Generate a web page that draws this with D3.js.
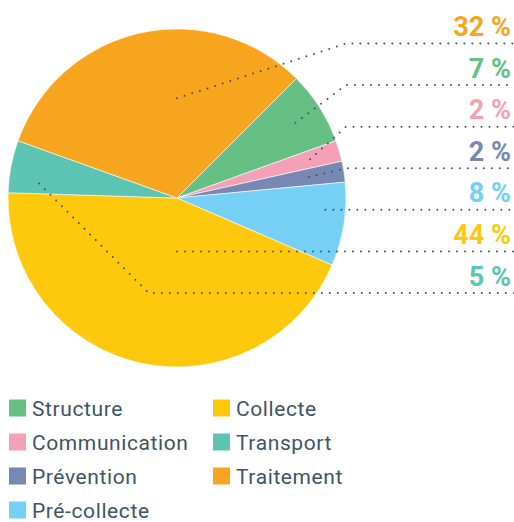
<!DOCTYPE html>
<head>
<meta charset="utf-8">
<style>
body { margin: 0; background: #fff; }
.leader {
  fill: none;
  stroke: #44545f;
  stroke-width: 2px;
  stroke-linecap: round;
  stroke-dasharray: 0 8;
}
.pct { font-family: Roboto, sans-serif; font-weight: 700; font-size: 27px; }
.legend text { font-family: Roboto, sans-serif; font-size: 21px; fill: #3e5563; letter-spacing: 0.6px; }
</style>
<script src="https://cdn.jsdelivr.net/npm/d3@7"></script>
</head>
<body>
<svg class="chart" width="514" height="522"></svg>
<script>

// Budget shares, in pie order (clockwise from the top-right).
var categories = ["Structure", "Communication", "Prévention", "Pré-collecte", "Collecte", "Transport", "Traitement"];
var values = [7, 2, 2, 8, 44, 5, 32];
var colors = ["#67c083", "#f4a1b7", "#7788b3", "#76cff5", "#fec90c", "#5dc3b2", "#f7a51f"];
// Order of the percentage labels on the right, top to bottom.
var labelOrder = ["Traitement", "Structure", "Communication", "Prévention", "Pré-collecte", "Collecte", "Transport"];

// Where each leader line starts, in polar terms (degrees from 12 o'clock, fraction of the radius).
// null angle means: middle of the slice.
var leaderStart = {
  "Traitement":    [0, 0.59],
  "Structure":     [null, 0.83],
  "Communication": [null, 0.82],
  "Prévention":    [null, 0.79],
  "Pré-collecte":  [94, 0.88],
  "Collecte":      [180, 0.31],
  "Transport":     [276, 0.82]
};

var svg = d3.select(".chart"),
  cx = 177, cy = 198, radius = 169;

var color = d3.scaleOrdinal().domain(categories).range(colors);

var data = categories.map(function(c, i) { return {name: c, value: values[i]}; });

var pie = d3.pie()
  .sort(null)
  .value(function(d) { return d.value; })
  .startAngle(45 * Math.PI / 180)
  .endAngle(405 * Math.PI / 180);

var arcs = pie(data);
var arc = d3.arc().innerRadius(0).outerRadius(radius);

var g = svg.append("g").attr("transform", "translate(" + cx + "," + cy + ")");
g.selectAll("path")
  .data(arcs)
  .enter().append("path")
  .attr("d", arc)
  .attr("fill", function(d) { return color(d.data.name); })
  .attr("stroke", "#fff")
  .attr("stroke-width", 0.6);

// Rows for the labels on the right.
var rowY = d3.scaleLinear().domain([0, labelOrder.length - 1]).range([43.5, 293]);

function polar(deg, frac) {
  var a = deg * Math.PI / 180;
  return [cx + Math.sin(a) * radius * frac, cy - Math.cos(a) * radius * frac];
}

var arcByName = {};
arcs.forEach(function(a) { arcByName[a.data.name] = a; });

labelOrder.forEach(function(name, i) {
  var a = arcByName[name],
    s = leaderStart[name],
    deg = s[0] === null ? ((a.startAngle + a.endAngle) / 2) * 180 / Math.PI : s[0],
    p0 = polar(deg, s[1]),
    y = rowY(i),
    pts;
  if (Math.abs(p0[1] - y) < 3) {
    // already on the row: straight line
    pts = [[p0[0], y], [514, y]];
  } else if (p0[0] < cx) {
    // left side: 45 degree drop to the row
    pts = [p0, [p0[0] + Math.abs(y - p0[1]), y], [514, y]];
  } else {
    pts = [p0, [cx + radius, y], [514, y]];
  }
  svg.append("path")
    .attr("class", "leader")
    .attr("d", d3.line()(pts));
  svg.append("text")
    .attr("class", "pct")
    .attr("x", 511)
    .attr("y", y - 7.5)
    .attr("text-anchor", "end")
    .attr("fill", color(name))
    .text(a.data.value + " %");
});

// Legend, two columns of four.
var legend = svg.append("g").attr("class", "legend");
categories.forEach(function(name, i) {
  var col = Math.floor(i / 4), row = i % 4,
    x = 9 + col * 204, y = 399.5 + row * 34;
  legend.append("rect")
    .attr("x", x).attr("y", y)
    .attr("width", 17).attr("height", 17)
    .attr("fill", color(name));
  legend.append("text")
    .attr("x", x + 23).attr("y", y + 16.5)
    .text(name);
});

</script>
</body>
